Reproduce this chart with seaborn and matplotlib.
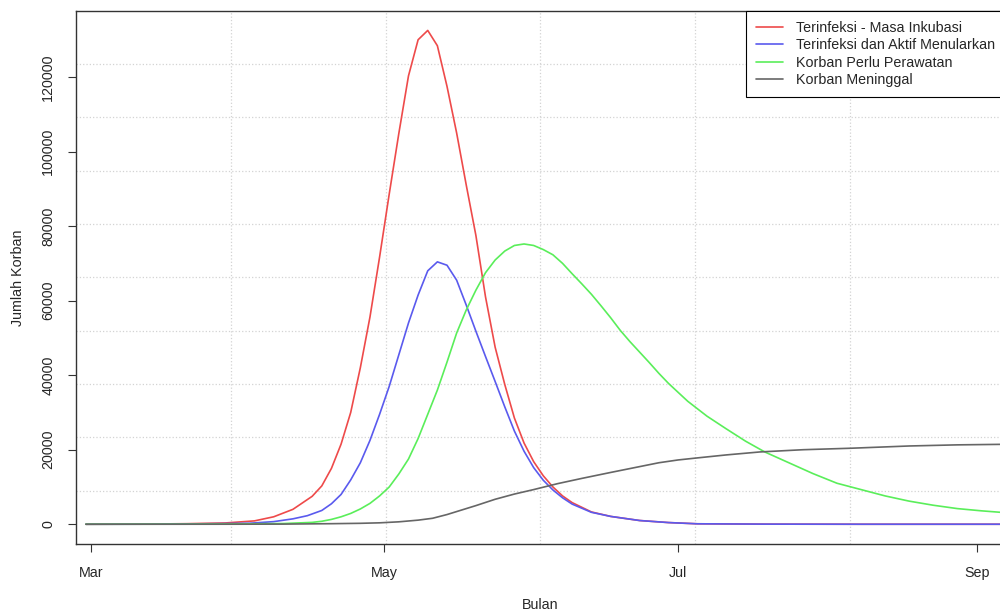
import numpy as np
import pandas as pd
import seaborn as sns
import matplotlib
matplotlib.use("Agg")
import matplotlib.pyplot as plt
from matplotlib.lines import Line2D

# data: hari sejak 1 Maret 2020 -> jumlah korban

hari_inkubasi = [-1, 10, 20, 28, 34, 38, 42, 46, 48, 50, 52, 54, 56, 58, 60, 62, 64, 66, 68, 70,
                 72, 74, 76, 78, 80, 82, 84, 86, 88, 90, 92, 94, 96, 98, 100, 104, 108, 114, 120,
                 126, 140, 160, 190]
jumlah_inkubasi = [0, 30, 150, 350, 900, 2000, 4000, 7500, 10300, 15000, 21500, 30000, 42000, 55600,
                   71700, 88600, 104900, 120300, 130000, 132500, 128400, 117500, 105000, 91000, 77500,
                   61000, 47500, 37500, 28500, 21800, 16800, 13000, 10000, 7600, 5800, 3300, 2100,
                   1000, 450, 120, 30, 0, 0]

hari_aktif = [-1, 10, 20, 28, 33, 38, 42, 45, 48, 50, 52, 54, 56, 58, 60, 62, 64, 66, 68, 70, 72,
              74, 76, 78, 80, 82, 84, 86, 88, 90, 92, 94, 96, 98, 100, 104, 108, 114, 120, 126,
              140, 160, 190]
jumlah_aktif = [0, 15, 80, 180, 270, 700, 1450, 2300, 3700, 5500, 8000, 11900, 16500, 22500, 29500,
                37000, 45500, 54000, 61500, 68000, 70400, 69500, 65500, 58800, 51800, 45000, 38300,
                31500, 25000, 19600, 15200, 11800, 9200, 7100, 5400, 3200, 2100, 1000, 450, 120, 30,
                0, 0]

hari_rawat = [-1, 20, 30, 40, 46, 48, 50, 52, 54, 56, 58, 60, 62, 64, 66, 68, 70, 72, 74, 76, 78,
              80, 82, 84, 86, 88, 90, 92, 94, 96, 98, 100, 102, 104, 106, 108, 110, 112, 114, 116,
              118, 120, 124, 128, 132, 136, 140, 145, 150, 155, 160, 165, 170, 175, 180, 185, 190]
jumlah_rawat = [0, 20, 80, 190, 500, 800, 1300, 2000, 2900, 4100, 5600, 7600, 10000, 13500, 17500,
                23000, 29500, 36000, 43500, 51300, 57500, 62800, 67500, 70900, 73300, 74800, 75200,
                74800, 73700, 72300, 70000, 67200, 64500, 61700, 58600, 55400, 52000, 49000, 46200,
                43400, 40500, 37800, 33000, 29000, 25600, 22300, 19400, 16500, 13600, 11000, 9300,
                7600, 6200, 5100, 4200, 3600, 3100]

hari_meninggal = [-1, 30, 40, 50, 56, 60, 64, 68, 71, 74, 77, 80, 84, 88, 92, 97, 102, 108, 113,
                  118, 122, 126, 132, 139, 148, 158, 170, 180, 190]
jumlah_meninggal = [0, 10, 40, 150, 250, 380, 650, 1100, 1600, 2600, 3800, 5000, 6700, 8100, 9300,
                    10900, 12300, 13900, 15200, 16500, 17250, 17800, 18600, 19400, 20000, 20400,
                    21000, 21300, 21450]

label_seri = ["Terinfeksi - Masa Inkubasi", "Terinfeksi dan Aktif Menularkan",
              "Korban Perlu Perawatan", "Korban Meninggal"]
warna_seri = ["#EE4a4a", "#5a5aEE", "#5aEE5a", "#666666"]

tick_bulan = ["2020-03-01", "2020-05-01", "2020-07-01", "2020-09-01"]
label_bulan = ["Mar", "May", "Jul", "Sep"]
tick_y = [0, 20000, 40000, 60000, 80000, 100000, 120000]

# gabungkan jadi satu dataframe panjang

mulai = pd.Timestamp("2020-03-01")
semua = [(hari_inkubasi, jumlah_inkubasi), (hari_aktif, jumlah_aktif),
         (hari_rawat, jumlah_rawat), (hari_meninggal, jumlah_meninggal)]
frames = []
for nama, (hari, jumlah) in zip(label_seri, semua):
    frames.append(pd.DataFrame({"tanggal": mulai + pd.to_timedelta(hari, unit="D"),
                                "jumlah": jumlah, "seri": nama}))
df = pd.concat(frames, ignore_index=True)

# plotting

sns.set_style("ticks")
plt.rcParams["font.family"] = ["Liberation Sans", "DejaVu Sans"]
fs = 10.3

fig = plt.figure(figsize=(10, 6.1), dpi=100)
ax = fig.add_axes([0.0758, 0.1082, 0.9292, 0.8743])

sns.lineplot(data=df, x="tanggal", y="jumlah", hue="seri", hue_order=label_seri,
             palette=warna_seri, estimator=None, linewidth=1.2, legend=False, ax=ax, zorder=3)

ax.set_xlim(mulai - pd.Timedelta(days=3.1), mulai + pd.Timedelta(days=189.9))
ax.set_ylim(-5300, 137800)

# grid seperti grid() di R: bagi area plot rata
x0, x1 = ax.get_xlim()
y0, y1 = ax.get_ylim()
for xx in np.linspace(x0, x1, 7)[1:-1]:
    ax.axvline(xx, color="#d3d3d3", ls=":", lw=0.9, zorder=1)
for yy in np.linspace(y0, y1, 11)[1:-1]:
    ax.axhline(yy, color="#d3d3d3", ls=":", lw=0.9, zorder=1)

ax.set_xticks(pd.to_datetime(tick_bulan))
ax.set_xticklabels(label_bulan, fontsize=fs)
ax.set_yticks(tick_y)
ax.set_yticklabels([str(v) for v in tick_y], rotation=90, va="center", fontsize=fs)
ax.tick_params(axis="both", direction="out", length=5.8, width=0.8, color="#333333")
ax.tick_params(axis="x", pad=10)
ax.tick_params(axis="y", pad=9)

for s in ax.spines.values():
    s.set_color("#333333")
    s.set_linewidth(1.0)

ax.set_xlabel("Bulan", fontsize=fs, labelpad=13)
ax.set_ylabel("Jumlah Korban", fontsize=fs, labelpad=12)

handles = [Line2D([], [], color=c, lw=1.2) for c in warna_seri]
leg = ax.legend(handles, label_seri, loc="upper right", borderaxespad=0, fontsize=fs,
                frameon=True, fancybox=False, framealpha=1, edgecolor="black",
                handlelength=1.9, handletextpad=0.9, labelspacing=0.25, borderpad=0.7)
leg.get_frame().set_linewidth(0.8)
leg.set_zorder(5)

plt.savefig("out.png", dpi=100)
